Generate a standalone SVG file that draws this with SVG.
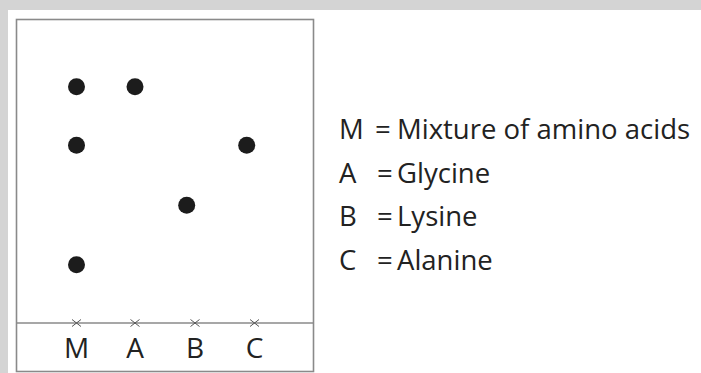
<svg xmlns="http://www.w3.org/2000/svg" width="701" height="373" viewBox="0 0 701 373">
  <style>
    .frame { fill: none; stroke: #8a8a8a; stroke-width: 1.6; }
    .spot { fill: #1c1c1c; }
    .mark { stroke: #555; stroke-width: 1; fill: none; }
    .lane { font-family: "Open Sans", "Noto Sans", sans-serif; font-size: 28px; fill: #222; text-anchor: middle; }
    .key { font-family: "Open Sans", "Noto Sans", sans-serif; font-size: 27.5px; fill: #222; }
  </style>
  <defs>
    <path id="x" class="mark" d="M-4.5,-3.5 L4.5,3.5 M-4.5,3.5 L4.5,-3.5"/>
  </defs>

  <!-- page background with grey edge -->
  <rect x="0" y="0" width="701" height="373" fill="#d4d4d4"/>
  <rect x="8" y="10" width="693" height="363" fill="#ffffff"/>

  <!-- chromatography paper -->
  <g id="paper">
    <rect class="frame" x="16.5" y="19.5" width="297" height="352"/>
    <line class="frame" x1="16.5" y1="323" x2="313.5" y2="323"/>
  </g>

  <!-- origin marks -->
  <g id="origin">
    <use href="#x" x="76.5" y="323"/>
    <use href="#x" x="135" y="323"/>
    <use href="#x" x="195" y="323"/>
    <use href="#x" x="254.5" y="323"/>
  </g>

  <!-- lane labels -->
  <g id="lanes">
    <text class="lane" x="76.5" y="358">M</text>
    <text class="lane" x="135" y="358">A</text>
    <text class="lane" x="195" y="358">B</text>
    <text class="lane" x="254.5" y="358">C</text>
  </g>

  <!-- developed spots -->
  <g id="spots">
    <circle class="spot" cx="76.5" cy="86.7" r="8.5"/>
    <circle class="spot" cx="76.5" cy="145.3" r="8.5"/>
    <circle class="spot" cx="76.5" cy="264.7" r="8.5"/>
    <circle class="spot" cx="135" cy="86.7" r="8.5"/>
    <circle class="spot" cx="186.7" cy="205.3" r="8.5"/>
    <circle class="spot" cx="246.7" cy="145.3" r="8.5"/>
  </g>

  <!-- key -->
  <g id="key">
    <text class="key" y="139"><tspan x="339">M</tspan><tspan x="375">=</tspan><tspan x="397">Mixture of amino acids</tspan></text>
    <text class="key" y="182.5"><tspan x="339">A</tspan><tspan x="377">=</tspan><tspan x="397">Glycine</tspan></text>
    <text class="key" y="226"><tspan x="339">B</tspan><tspan x="377">=</tspan><tspan x="397">Lysine</tspan></text>
    <text class="key" y="269.5"><tspan x="339">C</tspan><tspan x="377">=</tspan><tspan x="397">Alanine</tspan></text>
  </g>
</svg>
